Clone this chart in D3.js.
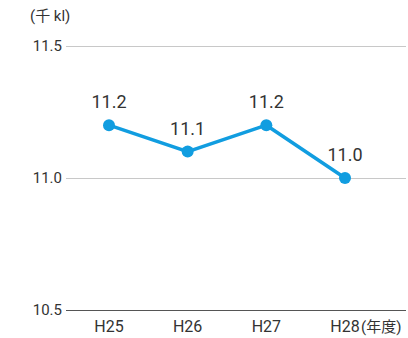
<!DOCTYPE html>
<html>
<head>
<meta charset="utf-8">
<script src="https://cdn.jsdelivr.net/npm/d3@7"></script>
<style>
  body { margin: 0; background: #fff; }
  svg { display: block; font-family: Roboto, "Noto Sans CJK JP", sans-serif; }
</style>
</head>
<body>
<svg id="chart" width="408" height="338"></svg>
<script>
// ── Data ──────────────────────────────────────────────────────────────────
const years  = ['H25', 'H26', 'H27', 'H28'];
const values = [11.2, 11.1, 11.2, 11.0];
const yTicks = [10.5, 11.0, 11.5];
const unitLabel = '(千 kl)';
const yearSuffix = '(年度)';

const svg = d3.select('#chart');
const gridX0 = 66, gridX1 = 406;

const x = d3.scalePoint().domain(years).range([109, 345]);
const y = d3.scaleLinear().domain([10.5, 11.5]).range([310, 46]);

// ── Grid ──────────────────────────────────────────────────────────────────
svg.selectAll('.gl').data(yTicks).join('line')
  .attr('x1', gridX0).attr('x2', gridX1)
  .attr('y1', d => y(d)).attr('y2', d => y(d))
  .attr('stroke', d => d === 10.5 ? '#555' : '#c8c8c8')
  .attr('stroke-width', 1)
  .attr('shape-rendering', 'crispEdges');

svg.selectAll('.yt').data(yTicks).join('text')
  .attr('x', 62).attr('y', d => y(d) + 5)
  .attr('text-anchor', 'end').attr('font-size', 15).attr('fill', '#333')
  .text(d => d.toFixed(1));

svg.append('text').attr('x', 30).attr('y', 21)
  .attr('font-size', 15).attr('fill', '#333').text(unitLabel);

// ── X labels ──────────────────────────────────────────────────────────────
svg.selectAll('.xt').data(years).join('text')
  .attr('x', d => x(d)).attr('y', 332)
  .attr('text-anchor', 'middle').attr('font-size', 16).attr('fill', '#333')
  .text(d => d);

const last = years[years.length - 1];
svg.append('text').attr('x', x(last) + 16).attr('y', 332)
  .attr('font-size', 15).attr('fill', '#333').text(yearSuffix);

// ── Line + markers ────────────────────────────────────────────────────────
const pts = years.map((k, i) => ({ k, v: values[i] }));
svg.append('path').datum(pts)
  .attr('fill', 'none').attr('stroke', '#119de0').attr('stroke-width', 3.5)
  .attr('d', d3.line().x(d => x(d.k)).y(d => y(d.v)));

svg.selectAll('.pt').data(pts).join('circle')
  .attr('cx', d => x(d.k)).attr('cy', d => y(d.v)).attr('r', 6)
  .attr('fill', '#119de0');

svg.selectAll('.vl').data(pts).join('text')
  .attr('x', d => x(d.k)).attr('y', d => y(d.v) - 17)
  .attr('text-anchor', 'middle').attr('font-size', 18).attr('fill', '#333')
  .text(d => d.v.toFixed(1));
</script>
</body>
</html>
